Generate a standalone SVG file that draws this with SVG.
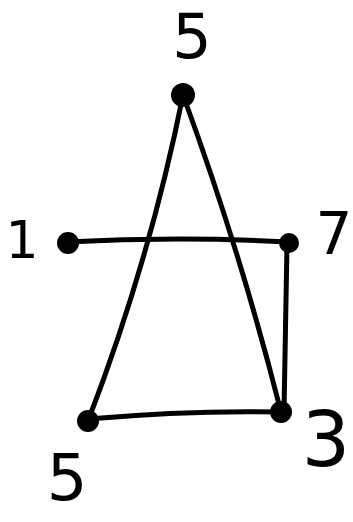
<svg xmlns="http://www.w3.org/2000/svg" width="353" height="522" viewBox="0 0 353 522">
<style>
.e{stroke:#000;stroke-width:5;fill:none;stroke-linecap:round;stroke-linejoin:round}
.n{fill:#000}
.l{font-family:"DejaVu Sans",sans-serif;fill:#000;text-anchor:middle}
</style>
<rect width="353" height="522" fill="#fff"/>
<g id="connectors">
<path class="e" d="M183,95 Q150,260 88,421"/>
<path class="e" d="M183,95 Q240,250 281,412"/>
<path class="e" d="M66,242 Q180,236 289,242"/>
<path class="e" d="M287,244 L284,412"/>
<path class="e" d="M88,419 Q190,410 281,412"/>
</g>
<g id="node-5top"><circle class="n" cx="183" cy="95" r="12"/><text class="l" x="192" y="58" font-size="62">5</text></g>
<g id="node-1"><circle class="n" cx="68" cy="243" r="11"/><text class="l" x="22" y="258" font-size="52">1</text></g>
<g id="node-7"><circle class="n" cx="289" cy="243" r="10"/><text class="l" x="334" y="254" font-size="58">7</text></g>
<g id="node-5bottom"><circle class="n" cx="88" cy="421" r="11"/><text class="l" x="67" y="500" font-size="64">5</text></g>
<g id="node-3"><circle class="n" cx="281" cy="412" r="11"/><text class="l" x="326" y="466" font-size="76">3</text></g>
</svg>
